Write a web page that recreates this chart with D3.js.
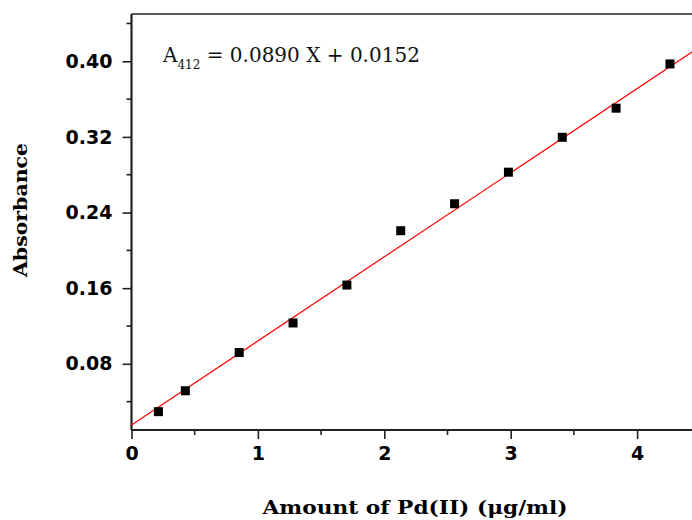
<!DOCTYPE html>
<html>
<head>
<meta charset="utf-8">
<script src="https://cdn.jsdelivr.net/npm/d3@7"></script>
<style>
  body { margin: 0; background: #fff; }
</style>
</head>
<body>
<div id="chart-area"></div>
<script>
// Data
var amounts = [0.213, 0.426, 0.852, 1.278, 1.704, 2.130, 2.556, 2.982, 3.408, 3.834, 4.260];
var absorbances = [0.0294, 0.0515, 0.0919, 0.1232, 0.1633, 0.2208, 0.2493, 0.2827, 0.3196, 0.3504, 0.3972];
var fitSlope = 0.0890;
var fitIntercept = 0.0152;
var xTicks = [0, 1, 2, 3, 4];
var yTicks = [0.08, 0.16, 0.24, 0.32, 0.40];

var data = amounts.map((a, i) => { return {x: a, y: absorbances[i]}; });

var W = 692, H = 520;
var plotLeft = 131.5, plotTop = 14, plotBottom = 430;

var svg = d3.select("#chart-area").append("svg")
	.attr("width", W)
	.attr("height", H);

// Scales
var x = d3.scaleLinear()
	.domain([0, 4.5])
	.range([plotLeft, plotLeft + 4.5 * 126.4]);

var y = d3.scaleLinear()
	.domain([0.01, 0.45])
	.range([plotBottom, plotTop]);

// Top frame line
svg.append("line")
	.attr("x1", plotLeft).attr("x2", W)
	.attr("y1", plotTop).attr("y2", plotTop)
	.attr("stroke", "#222")
	.attr("stroke-width", 1.6);

// Minor ticks
var xMinor = d3.range(0.5, 4.5, 1);
var yMinor = d3.range(0.04, 0.45, 0.08);

svg.append("g").selectAll("line").data(xMinor).enter()
	.append("line")
		.attr("x1", (d) => x(d)).attr("x2", (d) => x(d))
		.attr("y1", plotBottom).attr("y2", plotBottom + 5)
		.attr("stroke", "#222").attr("stroke-width", 1.6);

svg.append("g").selectAll("line").data(yMinor).enter()
	.append("line")
		.attr("x1", plotLeft - 5).attr("x2", plotLeft)
		.attr("y1", (d) => y(d)).attr("y2", (d) => y(d))
		.attr("stroke", "#222").attr("stroke-width", 1.6);

// Axes
var xAxis = d3.axisBottom(x)
	.tickValues(xTicks)
	.tickSizeInner(9)
	.tickSizeOuter(0)
	.tickPadding(8)
	.tickFormat(d3.format("d"));

var gx = svg.append("g")
	.attr("class", "x axis")
	.attr("transform", "translate(0," + plotBottom + ")")
	.call(xAxis);

var yAxis = d3.axisLeft(y)
	.tickValues(yTicks)
	.tickSizeInner(9)
	.tickSizeOuter(0)
	.tickPadding(10)
	.tickFormat(d3.format(".2f"));

var gy = svg.append("g")
	.attr("class", "y axis")
	.attr("transform", "translate(" + plotLeft + ",0)")
	.call(yAxis);

[gx, gy].forEach((g) => {
	g.select(".domain").attr("stroke", "#222").attr("stroke-width", 2.2);
	g.selectAll(".tick line").attr("stroke", "#222").attr("stroke-width", 1.6);
	g.selectAll(".tick text")
		.attr("fill", "#000")
		.attr("font-family", "DejaVu Sans")
		.attr("font-weight", "bold")
		.attr("font-size", "19px");
});
gx.select(".domain").attr("d", "M" + plotLeft + ",0H" + W);
gy.select(".domain").attr("d", "M0," + plotBottom + "V" + plotTop);

// Fit line
var fitX = [0, 4.5];
svg.append("line")
	.attr("x1", x(fitX[0])).attr("y1", y(fitIntercept + fitSlope * fitX[0]))
	.attr("x2", x(fitX[1])).attr("y2", y(fitIntercept + fitSlope * fitX[1]))
	.attr("stroke", "#ff0000")
	.attr("stroke-width", 1.2);

// Points
var s = 9;
svg.append("g").selectAll("rect").data(data).enter()
	.append("rect")
		.attr("x", (d) => x(d.x) - s / 2)
		.attr("y", (d) => y(d.y) - s / 2)
		.attr("width", s)
		.attr("height", s)
		.attr("fill", "#000");

// Equation
var eq = svg.append("text")
	.attr("x", 163)
	.attr("y", 62)
	.attr("font-family", "DejaVu Serif")
	.attr("font-size", "20px")
	.attr("fill", "#111");
eq.append("tspan").text("A");
eq.append("tspan").attr("font-size", "12px").attr("dy", 7).text("412");
eq.append("tspan").attr("dy", -7).text(" = 0.0890 X + 0.0152");

// Axis labels
svg.append("text")
	.attr("x", 415)
	.attr("y", 514)
	.attr("text-anchor", "middle")
	.attr("font-family", "DejaVu Serif")
	.attr("font-weight", "bold")
	.attr("font-size", "19px")
	.attr("textLength", 305)
	.attr("lengthAdjust", "spacingAndGlyphs")
	.text("Amount of Pd(II) (μg/ml)");

svg.append("text")
	.attr("transform", "translate(27,210) rotate(-90)")
	.attr("text-anchor", "middle")
	.attr("font-family", "DejaVu Serif")
	.attr("font-weight", "bold")
	.attr("font-size", "19px")
	.attr("textLength", 134)
	.attr("lengthAdjust", "spacingAndGlyphs")
	.text("Absorbance");
</script>
</body>
</html>
